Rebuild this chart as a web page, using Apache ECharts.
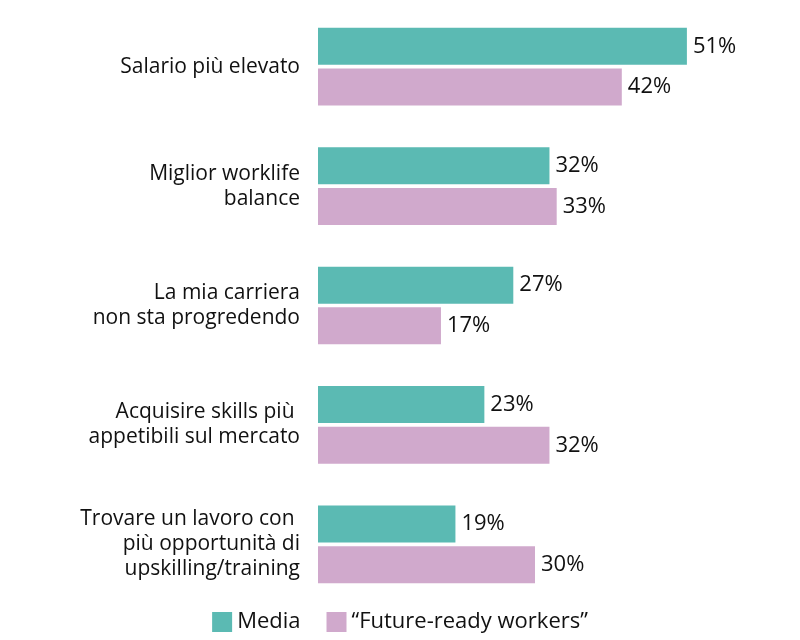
<!DOCTYPE html>
<html><head><meta charset="utf-8">
<script src="https://cdn.jsdelivr.net/npm/echarts@6/dist/echarts.min.js"></script>
<style>html,body{margin:0;padding:0;background:#fff}#c{width:800px;height:640px}</style>
</head><body><div id="c"></div>
<script>
var categories = ["Salario più elevato","Miglior worklife\nbalance","La mia carriera\nnon sta progredendo","Acquisire skills più \nappetibili sul mercato","Trovare un lavoro con \npiù opportunità di\nupskilling/training"];
var media = [51,32,27,23,19];
var future = [42,33,17,32,30];
var chart = echarts.init(document.getElementById('c'));
var lbl = {show:true,position:'right',formatter:'{c}%',fontSize:22,color:'#111',fontFamily:'Open Sans',distance:6};
chart.setOption({
  animation:false,
  textStyle:{fontFamily:'Open Sans'},
  grid:{left:318,right:48,top:7,bottom:36},
  xAxis:{type:'value',min:0,max:60,show:false},
  yAxis:{type:'category',data:categories,inverse:true,
    axisLine:{show:false},axisTick:{show:false},
    axisLabel:{fontSize:21,color:'#111',lineHeight:25,margin:18,fontFamily:'Open Sans'}},
  legend:{bottom:2,left:'center',itemWidth:20,itemHeight:20,itemGap:26,icon:'rect',
    textStyle:{fontSize:22,color:'#111',fontFamily:'Open Sans'},
    data:['Media','“Future-ready workers”']},
  series:[
    {name:'Media',type:'bar',data:media,barWidth:37,barGap:'10%',itemStyle:{color:'#5bbab3'},label:lbl},
    {name:'“Future-ready workers”',type:'bar',data:future,barWidth:37,itemStyle:{color:'#d0a9cc'},label:lbl}
  ]
});
</script></body></html>
